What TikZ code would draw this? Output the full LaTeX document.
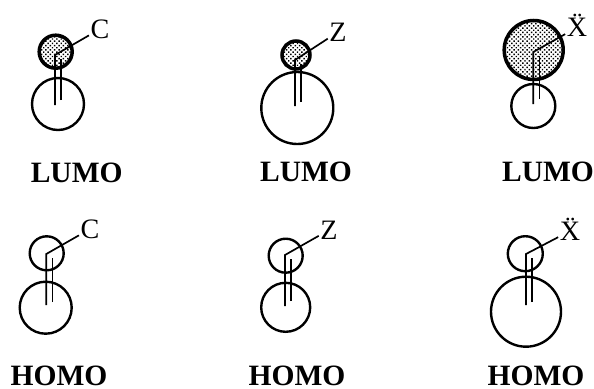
\documentclass[tikz,border=0pt]{standalone}
\usepackage{fontspec}
\setmainfont{Liberation Serif}
\usetikzlibrary{patterns.meta}
\begin{document}
\begin{tikzpicture}[
  x=0.025cm,y=-0.025cm,
  lobe/.style={line width=1.7pt},
  filledlobe/.style={line width=2.5pt,pattern={Dots[distance=2.2pt,radius=0.75pt,angle=45]},pattern color=black},
  bond/.style={line width=1.2pt},
  atom/.style={font=\fontsize{20}{22}\selectfont,inner sep=1pt},
  orbital/.style={font=\fontsize{21}{23}\selectfont\bfseries,inner sep=0pt}
]
  \useasboundingbox (0,0) rectangle (594,389);

  % lumo row, then homo row
  \foreach \n/\kind/\tx/\ty/\tr/\bx/\by/\br/\lx/\sy/\sb/\se/\ax/\ay/\txt/\ox/\oy/\otxt in {
    a/filledlobe/55.7/51.7/16.5/58/104/26/55/55/105/100/100/29/C/76.7/173/LUMO,
    b/filledlobe/296/55/14/297.3/108/36/295/60/106/102/338/32/Z/306/172/LUMO,
    c/filledlobe/533.7/50/29.5/533.3/106/22/533.3/52/104/99/577/27.5/{\vphantom{X}\smash{\"X}}/548/172/LUMO,
    d/lobe/46.7/253.3/17/45.7/307.7/26/46.3/254/305/302/90/229/C/59/376/HOMO,
    e/lobe/285.7/255.7/17/285.7/307.3/24.5/285/255/306/301/329/230/Z/297/376/HOMO,
    f/lobe/525.3/253.7/17.5/526/311.7/35/526/254/305/302/570/231/{\vphantom{X}\smash{\"X}}/536/376/HOMO}{
    \draw[lobe] (\bx,\by) circle (\br);
    \draw[\kind] (\tx,\ty) circle (\tr);
    \node[atom] (atom\n) at (\ax,\ay) {\txt};
    \node[orbital] (orb\n) at (\ox,\oy) {\otxt};
    \coordinate (bend\n) at (\lx,\sy);
    \draw[bond] (\lx,\sb) -- (bend\n) -- (atom\n);
    \draw[bond] (\lx+6.3,\se) -- (\lx+6.3,\sy+4);
  }
\end{tikzpicture}
\end{document}
